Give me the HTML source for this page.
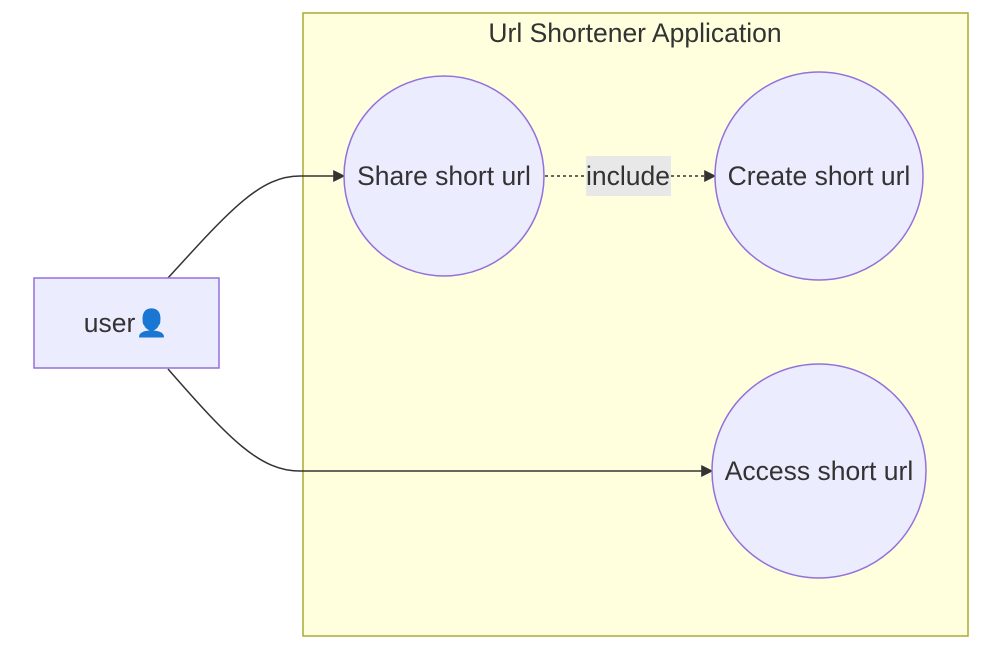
<!DOCTYPE html>
<html><head><meta charset="utf-8"><style>body{margin:0;background:#fff}</style></head>
<body>
<svg width="1003" height="650" xmlns="http://www.w3.org/2000/svg" font-family="Liberation Sans, DejaVu Sans, sans-serif">
<defs><marker id="a" viewBox="0 0 10 10" refX="9" refY="5" markerWidth="8" markerHeight="8" orient="auto"><path d="M0,0L10,5L0,10z" fill="#333"/></marker></defs>
<rect x="303" y="13" width="665" height="623" fill="#ffffde" stroke="#aaaa33" stroke-width="1.5"/>
<text x="635" y="42" font-size="26.5" text-anchor="middle" fill="#333">Url Shortener Application</text>
<path d="M168,278 C230,210 260,176 300,176 L344,176" fill="none" stroke="#333" stroke-width="1.5" marker-end="url(#a)"/>
<path d="M168,369 C230,440 260,471 300,471 L712,471" fill="none" stroke="#333" stroke-width="1.5" marker-end="url(#a)"/>
<path d="M545,176 L715,176" fill="none" stroke="#333" stroke-width="1.5" stroke-dasharray="3,3" marker-end="url(#a)"/>
<rect x="586" y="156" width="85" height="40" fill="#e8e8e8"/>
<text x="628" y="185" font-size="26.5" text-anchor="middle" fill="#333">include</text>
<circle cx="444" cy="176" r="100" fill="#ececff" stroke="#9370db" stroke-width="1.5"/>
<text x="444" y="185" font-size="26.5" text-anchor="middle" fill="#333">Share short url</text>
<circle cx="819" cy="176" r="104" fill="#ececff" stroke="#9370db" stroke-width="1.5"/>
<text x="819" y="185" font-size="26.5" text-anchor="middle" fill="#333">Create short url</text>
<circle cx="819" cy="471" r="107" fill="#ececff" stroke="#9370db" stroke-width="1.5"/>
<text x="819" y="480" font-size="26.5" text-anchor="middle" fill="#333">Access short url</text>
<rect x="34" y="278" width="185" height="90" fill="#ececff" stroke="#9370db" stroke-width="1.5"/>
<text x="126" y="332" font-size="26.5" text-anchor="middle" fill="#333">user👤</text>
</svg>
</body></html>
